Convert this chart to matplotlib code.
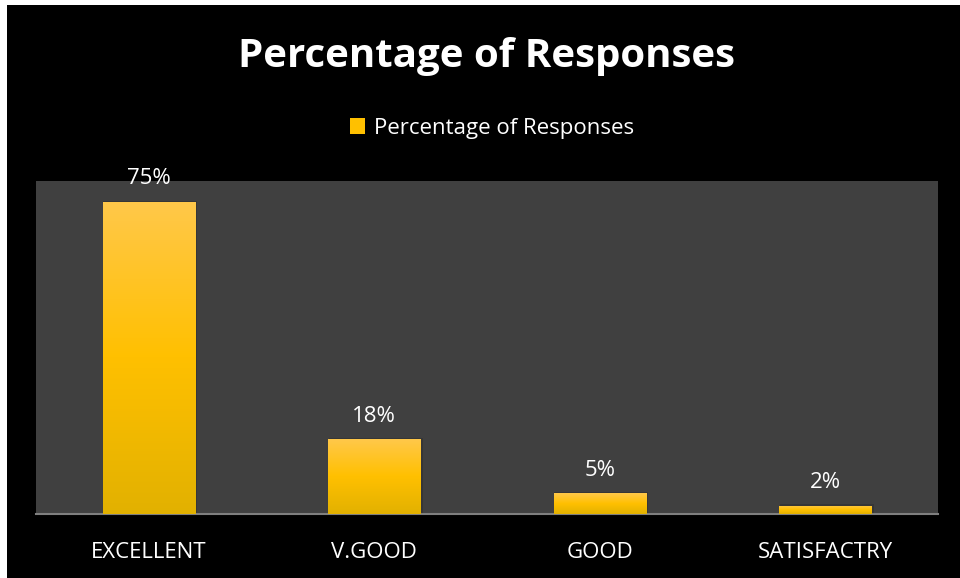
import matplotlib
matplotlib.use("Agg")
import matplotlib.pyplot as plt
import numpy as np
from matplotlib.patches import Rectangle, Patch
from matplotlib.colors import LinearSegmentedColormap

categories = ["EXCELLENT", "V.GOOD", "GOOD", "SATISFACTRY"]
responses = [75, 18, 5, 2]
value_labels = ["75%", "18%", "5%", "2%"]

plt.rcParams["font.family"] = ["Open Sans", "DejaVu Sans"]

W, H = 960, 578
fig = plt.figure(figsize=(W / 100, H / 100), dpi=100, facecolor="white")
# black chart area with thin white margin on left/top
fig.patches.append(Rectangle((7 / W, 0), 1 - 7 / W, 1 - 5 / H, transform=fig.transFigure,
                             facecolor="black", edgecolor="none", zorder=-10))

ax = fig.add_axes([36 / W, (H - 514) / H, (938 - 36) / W, (514 - 181) / H])
ax.set_facecolor("#404040")

x = np.arange(len(categories))
bw = 0.41
bars = ax.bar(x, responses, width=bw, color="#FFC000", zorder=3)

grad = LinearSegmentedColormap.from_list("g", ["#E2B100", "#FFC000", "#FFC84A"])
for b in bars:
    x0, y0 = b.get_x(), b.get_y()
    w, h = b.get_width(), b.get_height()
    # soft shadow
    ax.add_patch(Rectangle((x0 + 0.004, y0), w + 0.006, h + 0.3, facecolor="#363636",
                           edgecolor="none", zorder=2))
    im = ax.imshow(np.linspace(0, 1, 256).reshape(-1, 1), cmap=grad, origin="lower",
                   extent=(x0, x0 + w, y0, y0 + h), aspect="auto", zorder=4)
    im.set_clip_path(b)
ax.set_xlim(-0.5, len(categories) - 0.5)
ax.set_ylim(0, 80)

for xi, v, lab in zip(x, responses, value_labels):
    ax.annotate(lab, (xi, v), xytext=(0, 9), textcoords="offset points",
                ha="center", va="bottom", color="white", fontsize=16, zorder=5)

for s in ["top", "right", "left"]:
    ax.spines[s].set_visible(False)
ax.spines["bottom"].set_color("#7f7f7f")
ax.spines["bottom"].set_linewidth(1.5)
ax.set_yticks([])
ax.set_xticks(x)
ax.set_xticklabels(categories, color="white", fontsize=16)
ax.tick_params(axis="x", length=0, pad=20)

fig.text(486 / W, 1 - 57 / H, "Percentage of Responses", ha="center", va="center",
         color="white", fontsize=29, fontweight="bold")

leg = fig.legend(handles=[Patch(facecolor="#FFC000", edgecolor="none")],
                 labels=["Percentage of Responses"], loc="center",
                 bbox_to_anchor=(492 / W, 1 - 128 / H), frameon=False,
                 handlelength=0.7, handleheight=0.7, handletextpad=0.4,
                 fontsize=16, labelcolor="white")

fig.savefig("out.png", dpi=100, facecolor="white")
